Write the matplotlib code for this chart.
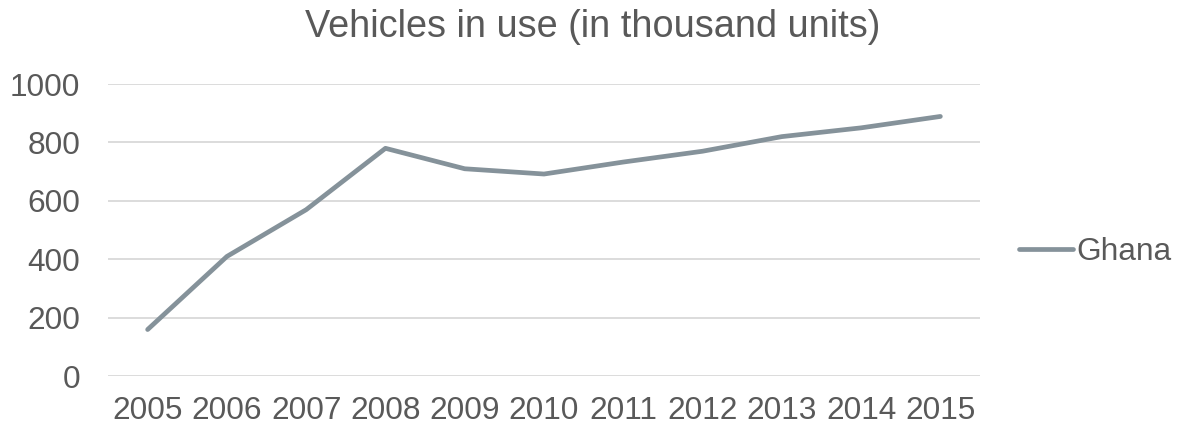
import matplotlib
matplotlib.use("Agg")
import matplotlib.pyplot as plt

years = ["2005", "2006", "2007", "2008", "2009", "2010",
         "2011", "2012", "2013", "2014", "2015"]
ghana = [160, 410, 570, 780, 710, 692, 733, 770, 820, 850, 889]
yticks = [0, 200, 400, 600, 800, 1000]

plt.rcParams["font.family"] = ["Liberation Sans", "DejaVu Sans"]
text_color = "#595959"
line_color = "#85929A"
grid_color = "#D9D9D9"

fig = plt.figure(figsize=(11.79, 4.28), dpi=100)
ax = fig.add_axes([108 / 1179, 1 - 376.3 / 428, (980 - 108) / 1179, (376.3 - 84) / 428])

x = list(range(len(years)))
ax.plot(x, ghana, color=line_color, lw=3.4, solid_capstyle="round",
        solid_joinstyle="round", label="Ghana")

ax.set_xlim(-0.5, len(years) - 0.5)
ax.set_ylim(0, 1000)
ax.set_yticks(yticks)
ax.set_xticks(x)
ax.set_xticklabels(years)
ax.yaxis.grid(True, color=grid_color, lw=1.3)
ax.set_axisbelow(True)
for s in ax.spines.values():
    s.set_visible(False)
ax.tick_params(axis="both", length=0, labelsize=22.8, colors=text_color)
ax.tick_params(axis="y", pad=20)
ax.tick_params(axis="x", pad=14)

fig.text(593 / 1179, 1 - 37.3 / 428, "Vehicles in use (in thousand units)",
         ha="center", va="baseline", fontsize=27.3, color=text_color)

leg = ax.legend(loc="center left", bbox_to_anchor=(1019 / 1179, 1 - 252 / 428),
                bbox_transform=fig.transFigure, frameon=False, fontsize=22.8,
                handlelength=1.7, handletextpad=0.1, borderpad=0, borderaxespad=0)
for t in leg.get_texts():
    t.set_color(text_color)

fig.savefig("out.png", dpi=100)
